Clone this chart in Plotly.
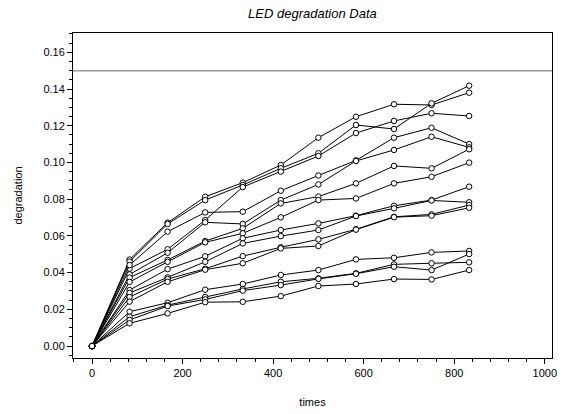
import plotly.graph_objects as go

times = [0, 83, 167, 250, 333, 417, 500, 583, 667, 750, 833]

unit_01 = [0, 0.0471, 0.0672, 0.0813, 0.0890, 0.0986, 0.1135, 0.1249, 0.1317, 0.1313, 0.1380]
unit_02 = [0, 0.0460, 0.0665, 0.0795, 0.0877, 0.0968, 0.1050, 0.1204, 0.1182, 0.1322, 0.1418]
unit_03 = [0, 0.0422, 0.0527, 0.0686, 0.0866, 0.0950, 0.1035, 0.1160, 0.1226, 0.1268, 0.1253]
unit_04 = [0, 0.0441, 0.0623, 0.0728, 0.0732, 0.0846, 0.0929, 0.1011, 0.1135, 0.1189, 0.1100]
unit_05 = [0, 0.0390, 0.0508, 0.0674, 0.0665, 0.0795, 0.0880, 0.1008, 0.1068, 0.1140, 0.1082]
unit_06 = [0, 0.0373, 0.0469, 0.0572, 0.0641, 0.0777, 0.0814, 0.0886, 0.0981, 0.0968, 0.1072]
unit_07 = [0, 0.0349, 0.0459, 0.0565, 0.0614, 0.0701, 0.0795, 0.0804, 0.0886, 0.0922, 0.0999]
unit_08 = [0, 0.0305, 0.0419, 0.0489, 0.0587, 0.0632, 0.0668, 0.0710, 0.0764, 0.0795, 0.0868]
unit_09 = [0, 0.0289, 0.0374, 0.0459, 0.0559, 0.0599, 0.0632, 0.0708, 0.0750, 0.0793, 0.0783]
unit_10 = [0, 0.0267, 0.0365, 0.0421, 0.0490, 0.0538, 0.0581, 0.0636, 0.0704, 0.0717, 0.0768]
unit_11 = [0, 0.0242, 0.0350, 0.0416, 0.0451, 0.0532, 0.0545, 0.0634, 0.0702, 0.0710, 0.0753]
unit_12 = [0, 0.0187, 0.0236, 0.0307, 0.0338, 0.0387, 0.0414, 0.0472, 0.0481, 0.0510, 0.0518]
unit_13 = [0, 0.0160, 0.0223, 0.0267, 0.0311, 0.0350, 0.0369, 0.0396, 0.0445, 0.0451, 0.0456]
unit_14 = [0, 0.0142, 0.0218, 0.0254, 0.0302, 0.0332, 0.0366, 0.0394, 0.0432, 0.0414, 0.0501]
unit_15 = [0, 0.0124, 0.0178, 0.0239, 0.0241, 0.0272, 0.0327, 0.0338, 0.0365, 0.0363, 0.0414]

units = [unit_01, unit_02, unit_03, unit_04, unit_05, unit_06, unit_07, unit_08,
         unit_09, unit_10, unit_11, unit_12, unit_13, unit_14, unit_15]

threshold = 0.15
y_ticks = [0.00, 0.02, 0.04, 0.06, 0.08, 0.10, 0.12, 0.14, 0.16]
x_ticks = [0, 200, 400, 600, 800, 1000]

FONT = "Arial, Liberation Sans, Helvetica, sans-serif"

fig = go.Figure()
for vals in units:
    fig.add_trace(go.Scatter(
        x=times, y=vals, mode="lines+markers",
        line=dict(color="black", width=1),
        marker=dict(symbol="circle", size=5.5, color="white",
                    line=dict(color="black", width=1)),
        showlegend=False, hoverinfo="x+y"))

fig.add_hline(y=threshold, line=dict(color="#9a9a9a", width=1.5))

fig.update_layout(
    width=565, height=414,
    margin=dict(l=73, r=13, t=33, b=56, autoexpand=False),
    paper_bgcolor="white", plot_bgcolor="white",
    font=dict(family=FONT, size=11, color="black"),
    title=dict(text="<i>LED degradation Data</i>", x=0.553, xanchor="center",
               y=0.968, yanchor="middle", font=dict(family=FONT, size=13, color="black")),
    xaxis=dict(
        title=dict(text="times", font=dict(size=11), standoff=20),
        automargin=False,
        range=[-42, 1016], tickvals=x_ticks, ticktext=[str(v) for v in x_ticks],
        ticks="outside", ticklen=5, tickwidth=1, tickcolor="black",
        minor=dict(dtick=40, tick0=0, ticks="outside", ticklen=3, tickcolor="black"),
        showline=True, linecolor="black", linewidth=1, mirror=True,
        showgrid=False, zeroline=False),
    yaxis=dict(
        title=dict(text="degradation", font=dict(size=11), standoff=18),
        automargin=False,
        range=[-0.0065, 0.1705], tickvals=y_ticks,
        ticktext=[f"{v:.2f}" for v in y_ticks],
        ticks="outside", ticklen=5, tickwidth=1, tickcolor="black",
        minor=dict(dtick=0.005, tick0=0, ticks="outside", ticklen=3, tickcolor="black"),
        showline=True, linecolor="black", linewidth=1, mirror=True,
        showgrid=False, zeroline=False),
)

fig.write_html("out.html",
               config={"displayModeBar": False},
               post_script="document.body.style.margin='0';document.body.style.overflow='hidden';")
